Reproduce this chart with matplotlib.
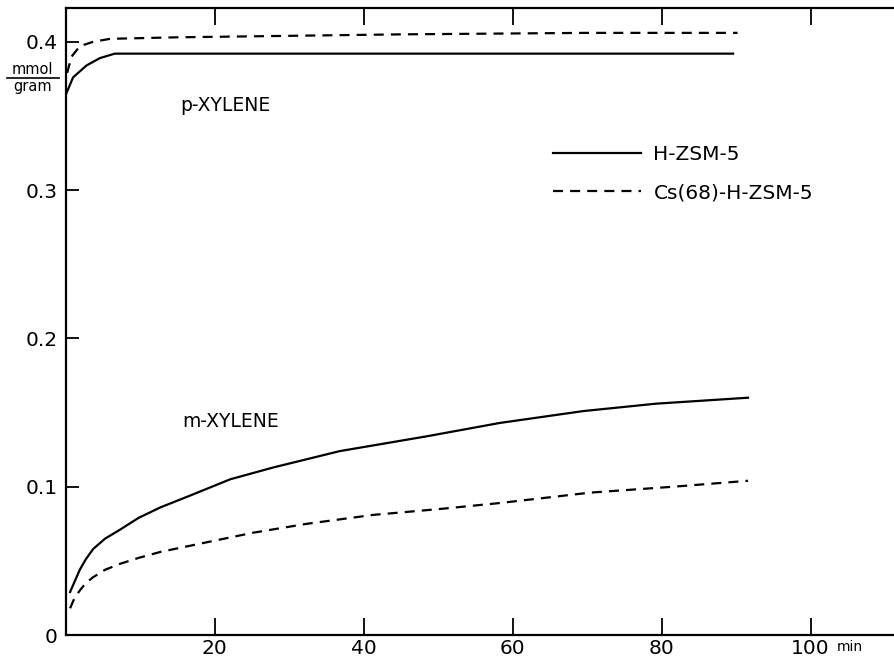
import matplotlib
matplotlib.use("Agg")
import matplotlib.pyplot as plt
from matplotlib.lines import Line2D

# values (time in min, uptake in mmol/gram)
t_p_h = [0.0, 1.0, 2.8, 4.6, 6.6, 20.0, 50.0, 89.6]
v_p_h = [0.364, 0.376, 0.384, 0.389, 0.392, 0.392, 0.392, 0.392]

t_p_cs = [0.2, 0.8, 1.9, 3.7, 6.0, 14.9, 45.0, 70.0, 90.2]
v_p_cs = [0.379, 0.390, 0.397, 0.400, 0.402, 0.403, 0.405, 0.406, 0.406]

t_m_h = [0.6, 1.9, 2.7, 3.7, 5.3, 7.3, 9.8, 12.7, 16.7, 22.1, 27.9, 36.8, 48.5,
         58.3, 69.5, 79.3, 91.6]
v_m_h = [0.029, 0.044, 0.051, 0.058, 0.065, 0.071, 0.079, 0.086, 0.094, 0.105,
         0.113, 0.124, 0.134, 0.143, 0.151, 0.156, 0.160]

t_m_cs = [0.6, 1.2, 1.9, 2.7, 3.7, 5.3, 7.3, 9.8, 12.7, 19.4, 25.2, 32.4, 41.3,
          50.3, 58.3, 70.4, 81.6, 91.6]
v_m_cs = [0.018, 0.025, 0.030, 0.035, 0.039, 0.044, 0.048, 0.052, 0.056, 0.063,
          0.069, 0.075, 0.081, 0.085, 0.089, 0.096, 0.100, 0.104]

x_ticks = [20, 40, 60, 80, 100]
y_ticks = [0, 0.1, 0.2, 0.3, 0.4]
y_labels = ["0", "0.1", "0.2", "0.3", "0.4"]

solid_label = "H-ZSM-5"
dashed_label = "Cs(68)-H-ZSM-5"

fig = plt.figure(figsize=(8.94, 6.59), dpi=100)
ax = fig.add_axes([0.0734, 0.0364, 0.9266, 0.9522])

dash = (0, (4.5, 3.2))
lw = 1.6
kw = dict(color="black", lw=lw, solid_joinstyle="round", dash_joinstyle="round")
ax.plot(t_p_h, v_p_h, label=solid_label, **kw)
ax.plot(t_p_cs, v_p_cs, linestyle=dash, label=dashed_label, **kw)
ax.plot(t_m_h, v_m_h, **kw)
ax.plot(t_m_cs, v_m_cs, linestyle=dash, **kw)

ax.set_xlim(0, 111.2)
ax.set_ylim(0, 0.4231)
ax.set_xticks(x_ticks)
ax.set_xticklabels([str(v) for v in x_ticks], fontsize=14.5)
ax.set_yticks(y_ticks)
ax.set_yticklabels(y_labels, fontsize=14.5)
ax.tick_params(axis="x", direction="in", top=True, length=12, width=1.3, pad=3)
ax.tick_params(axis="y", direction="in", length=9, width=1.3, pad=6)
ax.spines["right"].set_visible(False)
for s in ("left", "bottom", "top"):
    ax.spines[s].set_linewidth(1.6)

ax.text(103.5, -0.019, "min", fontsize=10, ha="left", va="center",
        transform=ax.get_xaxis_transform())

ax.text(15.4, 0.357, "p-XYLENE", fontsize=13.5, ha="left", va="center")
ax.text(15.6, 0.144, "m-XYLENE", fontsize=13.5, ha="left", va="center")

# unit label as a stacked fraction left of the 0.4 tick
fig.text(0.036, 0.894, "mmol", fontsize=10.5, ha="center", va="center")
fig.text(0.036, 0.868, "gram", fontsize=10.5, ha="center", va="center")
fig.add_artist(Line2D([0.008, 0.066], [0.882, 0.882], color="black", lw=1.2,
                      transform=fig.transFigure))

ax.legend(loc="upper left", bbox_to_anchor=(0.588, 0.781), frameon=False,
          fontsize=14.5, handlelength=4.4, handletextpad=0.6, labelspacing=0.95,
          borderpad=0, borderaxespad=0)

fig.savefig("out.png", dpi=100)
